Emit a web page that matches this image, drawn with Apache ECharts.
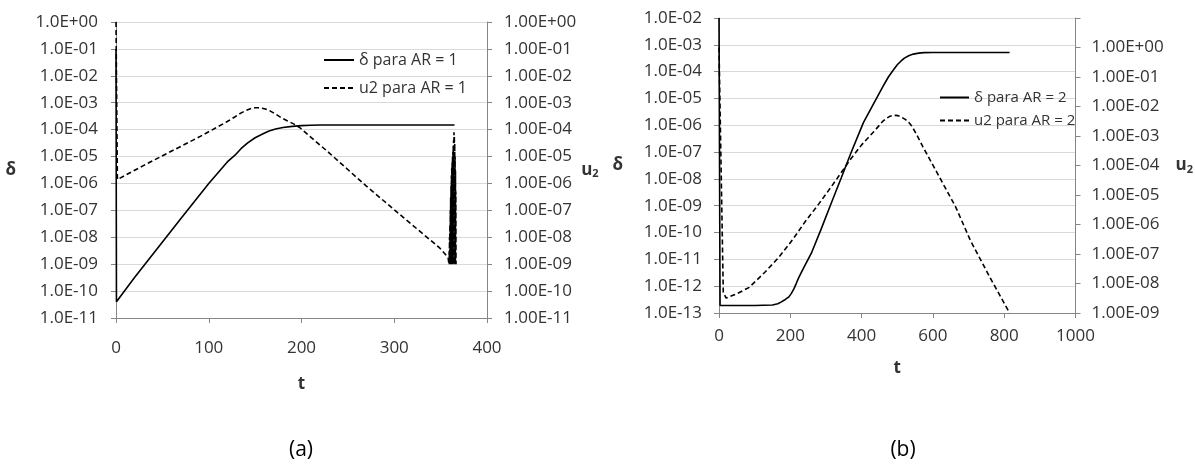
<!DOCTYPE html>
<html><head><meta charset="utf-8">
<script src="https://cdn.jsdelivr.net/npm/echarts@6/dist/echarts.min.js"></script>
<style>html,body{margin:0;padding:0;background:#fff}#c{width:1195px;height:464px}</style>
</head><body><div id="c"></div><script>
// ---------- Panel (a), AR = 1 ----------
const tA_delta = [0, 0.5, 20, 45, 70, 100, 110, 120, 128, 135, 142, 150, 158, 165, 172, 180, 190, 200, 210, 220, 365];
const vA_delta = [1e-1, 4e-11, 3.2e-10, 4e-9, 5e-8, 1e-6, 2.5e-6, 6.3e-6, 1.1e-5, 2e-5, 3.2e-5, 5e-5, 6.9e-5, 8.9e-5, 1.05e-4, 1.2e-4, 1.32e-4, 1.41e-4, 1.45e-4, 1.48e-4, 1.48e-4];
const tA_u2 = [0, 1.5, 30, 60, 90, 120, 128, 135, 140, 145, 150, 155, 160, 166, 172, 178, 185, 192, 198, 230, 270, 310, 349, 358,
  359.0, 359.2, 359.4, 359.6, 359.8, 360.0, 360.2, 360.4, 360.6, 360.8, 361.0, 361.2, 361.4, 361.6, 361.8, 362.0, 362.2, 362.4, 362.6, 362.8,
  363.0, 363.2, 363.4, 363.6, 363.8, 364.0, 364.2, 364.4, 364.6, 364.8, 365.0, 365.2, 365.4, 365.6, 365.8, 366.0, 366.2, 366.4, 366.6];
const vA_u2 = [1, 1.4e-6, 4.7e-6, 1.6e-5, 5.4e-5, 2e-4, 2.95e-4, 4.2e-4, 5.1e-4, 6e-4, 6.5e-4, 6.5e-4, 6e-4, 5e-4, 3.8e-4, 2.8e-4, 2.1e-4, 1.6e-4, 1.2e-4, 1.35e-5, 7.9e-7, 5.4e-8, 4e-9, 1.8e-9,
  1e-9, 3e-9, 1e-9, 1e-8, 1e-9, 3e-8, 1e-9, 1e-7, 1e-9, 3e-7, 1e-9, 8e-7, 1e-9, 2e-6, 1e-9, 4e-6, 1e-9, 6e-6, 1e-9, 1e-5,
  1e-9, 1.5e-5, 1e-9, 2.5e-5, 1e-9, 4e-5, 1e-9, 8e-5, 1e-9, 6e-5, 1e-9, 3e-5, 1e-9, 1e-5, 1e-9, 3e-6, 1e-9, 5e-7, 1e-9];
const xTicksA = [0, 100, 200, 300, 400];
const leftLabelsA = ['1.0E-11','1.0E-10','1.0E-09','1.0E-08','1.0E-07','1.0E-06','1.0E-05','1.0E-04','1.0E-03','1.0E-02','1.0E-01','1.0E+00'];
const rightLabelsA = ['1.00E-11','1.00E-10','1.00E-09','1.00E-08','1.00E-07','1.00E-06','1.00E-05','1.00E-04','1.00E-03','1.00E-02','1.00E-01','1.00E+00'];
const legendA = ['δ para AR = 1', 'u2 para AR = 1'];

// ---------- Panel (b), AR = 2 ----------
const tB_delta = [0, 3, 50, 100, 150, 165, 175, 186, 196, 203, 210, 216, 223, 231, 240, 259, 287, 315, 343, 370, 405, 444, 460, 475, 488, 500, 510, 520, 532, 545, 560, 575, 600, 815];
const vB_delta = [1e-2, 1.9e-13, 1.9e-13, 1.9e-13, 2.0e-13, 2.2e-13, 2.6e-13, 3.2e-13, 4e-13, 5.4e-13, 7.9e-13, 1.2e-12, 2e-12, 3.3e-12, 5.6e-12, 1.7e-11, 1.4e-10, 1.26e-9, 1.1e-8, 9.3e-8, 1.26e-6, 1.15e-5, 2.8e-5, 6.3e-5, 1.1e-4, 1.8e-4, 2.45e-4, 3.2e-4, 3.9e-4, 4.5e-4, 4.9e-4, 5.1e-4, 5.2e-4, 5.2e-4];
const tB_u2 = [0, 12, 20, 50, 85, 130, 168, 205, 242, 280, 315, 345, 370, 400, 434, 460, 470, 480, 488, 495, 502, 510, 520, 528, 540, 552, 572, 618, 664, 705, 760, 815];
const vB_u2 = [1, 5e-9, 3.2e-9, 4.5e-9, 7.4e-9, 2.5e-8, 7.8e-8, 2.9e-7, 1.26e-6, 5e-6, 1.9e-5, 6.3e-5, 1.7e-4, 5e-4, 1.4e-3, 3.2e-3, 4e-3, 4.7e-3, 5e-3, 5e-3, 4.9e-3, 4.5e-3, 3.8e-3, 3.3e-3, 2.24e-3, 1.26e-3, 4.3e-4, 4.1e-5, 3.9e-6, 2.9e-7, 1.6e-8, 1e-9];
const xTicksB = [0, 200, 400, 600, 800, 1000];
const leftLabelsB = ['1.0E-13','1.0E-12','1.0E-11','1.0E-10','1.0E-09','1.0E-08','1.0E-07','1.0E-06','1.0E-05','1.0E-04','1.0E-03','1.0E-02'];
const rightLabelsB = ['1.00E-09','1.00E-08','1.00E-07','1.00E-06','1.00E-05','1.00E-04','1.00E-03','1.00E-02','1.00E-01','1.00E+00',''];
const legendB = ['δ para AR = 2', 'u2 para AR = 2'];

const zip = (t, v) => t.map((x, i) => [x, v[i]]);
const expOf = v => Math.round(Math.log10(v));
const FONT = '"Open Sans", "Noto Sans", sans-serif';
const TXT = '#333';
const AXC = '#868686';
const GRIDC = '#d9d9d9';

function xAxis(gi, ticks, margin, nameGap) {
  return {
    type: 'value', gridIndex: gi, min: ticks[0], max: ticks[ticks.length - 1], interval: ticks[1] - ticks[0],
    axisLine: {show: true, onZero: false, lineStyle: {color: AXC, width: 1}},
    axisTick: {show: true, length: 5, lineStyle: {color: AXC}},
    splitLine: {show: false},
    axisLabel: {margin: margin, color: TXT, fontFamily: FONT, fontSize: 17, formatter: v => String(v)},
    name: 't', nameLocation: 'middle', nameGap: nameGap,
    nameTextStyle: {fontFamily: FONT, fontWeight: 'bold', fontSize: 17, color: TXT}
  };
}
function yAxis(gi, pos, minExp, labels, grid, name, nameGap, margin) {
  const maxExp = minExp + labels.length - 1;
  return {
    type: 'log', logBase: 10, gridIndex: gi, position: pos,
    min: Math.pow(10, minExp), max: Math.pow(10, maxExp), interval: 1,
    axisLine: {show: true, onZero: false, lineStyle: {color: AXC, width: 1}},
    axisTick: {show: true, length: 5, lineStyle: {color: AXC}},
    splitLine: {show: grid, lineStyle: {color: GRIDC, width: 1}},
    minorTick: {show: false}, minorSplitLine: {show: false},
    axisLabel: {margin: margin, color: TXT, fontFamily: FONT, fontSize: 17,
      formatter: v => labels[expOf(v) - minExp] ?? ''},
    name: name, nameLocation: 'middle', nameGap: nameGap, nameRotate: 0,
    nameTextStyle: {fontFamily: FONT, fontWeight: 'bold', fontSize: 17, color: TXT,
      rich: {b: {fontFamily: FONT, fontWeight: 'bold', fontSize: 17, color: TXT},
             s: {fontFamily: FONT, fontWeight: 'bold', fontSize: 11, color: TXT, padding: [8, 0, 0, 0]}}}
  };
}
function line(name, data, xi, yi, dashed) {
  return {
    name: name, type: 'line', xAxisIndex: xi, yAxisIndex: yi, data: data,
    showSymbol: false, symbol: 'none', smooth: false, animation: false,
    lineStyle: {color: '#000', width: 1.6, type: dashed ? [5, 3] : 'solid'},
    itemStyle: {color: '#000'}
  };
}
function legend(data, left, top, itemWidth, itemGap, fontSize) {
  return {
    data: data, left: left, top: top, itemWidth: itemWidth, itemGap: itemGap,
    orient: 'vertical', itemHeight: 14, selectedMode: false,
    itemStyle: {opacity: 0, borderWidth: 0},
    textStyle: {fontFamily: FONT, fontSize: fontSize, color: TXT}
  };
}

const chart = echarts.init(document.getElementById('c'), null, {renderer: 'canvas'});
chart.setOption({
  backgroundColor: '#fff',
  animation: false,
  grid: [
    {left: 116, top: 22, width: 371, height: 296},
    {left: 719, top: 18, width: 363, height: 295}
  ],
  xAxis: [xAxis(0, xTicksA, 22, 58), xAxis(1, xTicksB, 15, 47)],
  yAxis: [
    yAxis(0, 'left', -11, leftLabelsA, true, 'δ', 100, 18),
    yAxis(0, 'right', -11, rightLabelsA, false, '{b|u}{s|2}', 94, 17),
    yAxis(1, 'left', -13, leftLabelsB, true, 'δ', 96, 17),
    yAxis(1, 'right', -9, rightLabelsB, false, '{b|u}{s|2}', 100, 16)
  ],
  legend: [
    legend(legendA, 318, 47, 30, 12, 16),
    legend(legendB, 934, 85, 29, 8, 15)
  ],
  series: [
    line(legendA[0], zip(tA_delta, vA_delta), 0, 0, false),
    line(legendA[1], zip(tA_u2, vA_u2), 0, 1, true),
    line(legendB[0], zip(tB_delta, vB_delta), 1, 2, false),
    line(legendB[1], zip(tB_u2, vB_u2), 1, 3, true)
  ],
  graphic: [
    {type: 'text', x: 301, y: 450, style: {text: '(a)', fontFamily: FONT, fontSize: 21, fill: '#000', textAlign: 'center', textVerticalAlign: 'middle'}},
    {type: 'text', x: 903, y: 450, style: {text: '(b)', fontFamily: FONT, fontSize: 21, fill: '#000', textAlign: 'center', textVerticalAlign: 'middle'}}
  ]
});
</script></body></html>
